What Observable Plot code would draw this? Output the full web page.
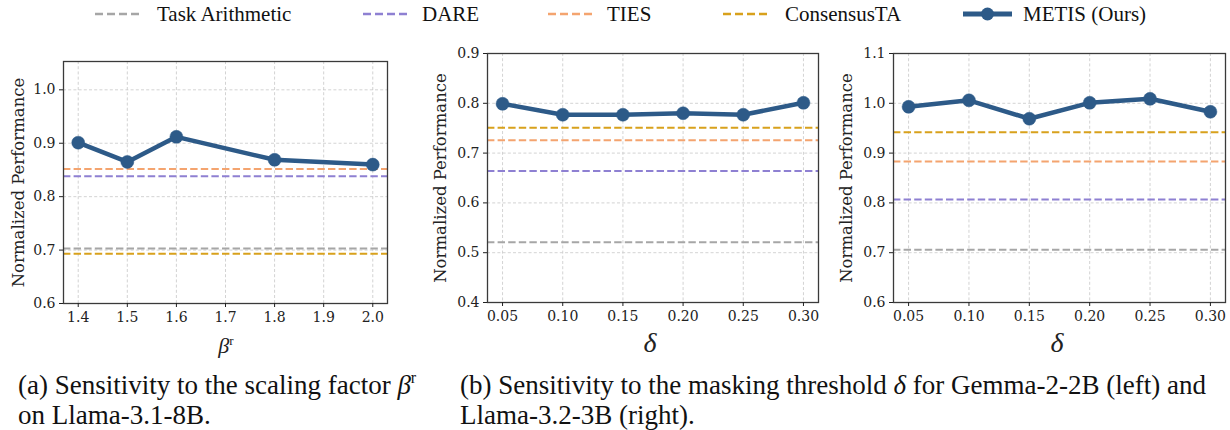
<!DOCTYPE html>
<html>
<head>
<meta charset="utf-8">
<script src="https://cdn.jsdelivr.net/npm/d3@7"></script>
<script src="https://cdn.jsdelivr.net/npm/@observablehq/plot@0.6"></script>
<style>
  body { margin: 0; background: #fff; }
  #root { position: relative; width: 1230px; height: 430px; background: #fff; overflow: hidden; }
  .panel { position: absolute; top: 0; }
  .xlab { position: absolute; font-family: "Liberation Serif", "Times New Roman", serif; font-style: italic; color: #222; transform: translateX(-50%); white-space: nowrap; line-height: normal; }
  .xlab sup { font-style: normal; font-size: 13px; }
  svg.over { position: absolute; left: 0; top: 0; }
</style>
</head>
<body>
<div id="root"></div>
<script>
// ---- data ----
const methods = ["Task Arithmetic", "DARE", "TIES", "ConsensusTA"];
const methodColors = ["#a6a6a6", "#8e80d2", "#f4a46f", "#d8a11c"];
const metisName = "METIS (Ours)";
const metisColor = "#2d5a88";

const betaX = [1.4, 1.5, 1.6, 1.8, 2.0];
const betaMetis = [0.901, 0.865, 0.912, 0.869, 0.860];
const betaBaselines = [0.703, 0.838, 0.852, 0.693];
const betaTicksX = [1.4, 1.5, 1.6, 1.7, 1.8, 1.9, 2.0];
const betaTicksY = [0.6, 0.7, 0.8, 0.9, 1.0];

const deltaX = [0.05, 0.10, 0.15, 0.20, 0.25, 0.30];
const gemmaMetis = [0.799, 0.777, 0.777, 0.780, 0.777, 0.801];
const gemmaBaselines = [0.521, 0.664, 0.726, 0.751];
const gemmaTicksY = [0.4, 0.5, 0.6, 0.7, 0.8, 0.9];

const llamaMetis = [0.993, 1.006, 0.969, 1.001, 1.009, 0.983];
const llamaBaselines = [0.706, 0.807, 0.883, 0.942];
const llamaTicksY = [0.6, 0.7, 0.8, 0.9, 1.0, 1.1];

const yLabel = "Normalized Performance";

const serifTick = "'DejaVu Serif', serif";
const serifText = "'Liberation Serif', 'Times New Roman', serif";

// ---- panels ----
function panel(o) {
  const pts = o.xs.map((x, i) => ({x, y: o.metis[i]}));
  const base = o.baselines.map((v, i) => ({v, c: methodColors[i]}));
  return Plot.plot({
    width: o.width, height: o.height,
    marginLeft: o.ml, marginRight: o.mr, marginTop: o.mt, marginBottom: o.mb,
    style: {fontFamily: serifTick, fontSize: "14px", color: "#222", background: "transparent", overflow: "visible"},
    x: {domain: o.xDomain, label: null},
    y: {domain: o.yDomain, label: null},
    marks: [
      Plot.gridX(o.xTicks, {stroke: "#c8c8c8", strokeOpacity: 1, strokeDasharray: "3,2.2", strokeWidth: 0.8}),
      Plot.gridY(o.yTicks, {stroke: "#c8c8c8", strokeOpacity: 1, strokeDasharray: "3,2.2", strokeWidth: 0.8}),
      Plot.ruleY(base, {y: "v", stroke: "c", strokeWidth: 2, strokeDasharray: "7.4,3.2"}),
      Plot.line(pts, {x: "x", y: "y", stroke: metisColor, strokeWidth: 4.5}),
      Plot.dot(pts, {x: "x", y: "y", r: 6.5, fill: metisColor, stroke: metisColor, strokeWidth: 0.5}),
      Plot.frame({stroke: "#3a3a3a", strokeWidth: 1.3}),
      Plot.axisX(o.xTicks, {tickFormat: o.xFormat, tickSize: 4, tickPadding: 5, fontSize: 14, fontFamily: serifTick}),
      Plot.axisY(o.yTicks, {tickFormat: ".1f", tickSize: 4, tickPadding: 4, fontSize: 14, fontFamily: serifTick}),
      Plot.text([yLabel], {frameAnchor: "left", textAnchor: "middle", lineAnchor: "middle", dx: o.ylabDx, rotate: -90, fontSize: 16.5, fontFamily: serifTick, fill: "#222"})
    ]
  });
}

const root = document.getElementById("root");
function place(node, left) {
  const d = document.createElement("div");
  d.className = "panel";
  d.style.left = left + "px";
  d.appendChild(node);
  root.appendChild(d);
}

place(panel({xs: betaX, metis: betaMetis, baselines: betaBaselines,
  xDomain: [1.37, 2.03], yDomain: [0.6, 1.053], xTicks: betaTicksX, yTicks: betaTicksY, xFormat: ".1f",
  width: 400, height: 340, ml: 63, mr: 13, mt: 61, mb: 37, ylabDx: -44.5}), 0);

place(panel({xs: deltaX, metis: gemmaMetis, baselines: gemmaBaselines,
  xDomain: [0.0375, 0.3125], yDomain: [0.4, 0.9], xTicks: deltaX, yTicks: gemmaTicksY, xFormat: ".2f",
  width: 410, height: 340, ml: 67, mr: 12, mt: 53, mb: 38, ylabDx: -47}), 420);

place(panel({xs: deltaX, metis: llamaMetis, baselines: llamaBaselines,
  xDomain: [0.0375, 0.3125], yDomain: [0.6, 1.1], xTicks: deltaX, yTicks: llamaTicksY, xFormat: ".2f",
  width: 400, height: 340, ml: 63, mr: 5, mt: 53, mb: 38, ylabDx: -46.5}), 830);

// ---- x-axis labels ----
function xlab(html, cx, top, size) {
  const d = document.createElement("div");
  d.className = "xlab";
  d.style.left = cx + "px";
  d.style.top = top + "px";
  d.style.fontSize = size + "px";
  d.innerHTML = html;
  root.appendChild(d);
}
xlab("β<sup>r</sup>", 226, 333, 22);
xlab("δ", 650, 327, 28);
xlab("δ", 1057, 327, 28);

// ---- legend + captions ----
const ns = "http://www.w3.org/2000/svg";
const over = document.createElementNS(ns, "svg");
over.setAttribute("class", "over");
over.setAttribute("width", 1230);
over.setAttribute("height", 430);
root.appendChild(over);
function el(tag, attrs, text) {
  const e = document.createElementNS(ns, tag);
  for (const k in attrs) e.setAttribute(k, attrs[k]);
  if (text != null) e.textContent = text;
  over.appendChild(e);
  return e;
}
const legX = [[95, 157], [363, 422], [548, 607], [723, 785]];
methods.forEach((m, i) => {
  el("line", {x1: legX[i][0], x2: legX[i][0] + 46, y1: 14, y2: 14, stroke: methodColors[i], "stroke-width": 2.5, "stroke-dasharray": "8,4"});
  el("text", {x: legX[i][1], y: 21, "font-family": serifText, "font-size": 21, fill: "#111"}, m);
});
el("line", {x1: 963, x2: 1012, y1: 14, y2: 14, stroke: metisColor, "stroke-width": 5});
el("circle", {cx: 987.5, cy: 14, r: 6.5, fill: metisColor});
el("text", {x: 1023, y: 21, "font-family": serifText, "font-size": 21, fill: "#111"}, metisName);

function caption(x, y, parts) {
  const t = el("text", {x, y, "font-family": serifText, "font-size": 27, fill: "#111"});
  parts.forEach(p => {
    const s = document.createElementNS(ns, "tspan");
    if (p.italic) s.setAttribute("font-style", "italic");
    if (p.sup) { s.setAttribute("font-size", 16); s.setAttribute("dy", -11); }
    s.textContent = p.t;
    t.appendChild(s);
  });
}
caption(18, 394, [{t: "(a) Sensitivity to the scaling factor "}, {t: "β", italic: true}, {t: "r", sup: true}]);
caption(18, 424, [{t: "on Llama-3.1-8B."}]);
caption(460, 394, [{t: "(b) Sensitivity to the masking threshold  "}, {t: "δ", italic: true}, {t: "  for Gemma-2-2B (left) and"}]);
caption(460, 424, [{t: "Llama-3.2-3B (right)."}]);
</script>
</body>
</html>
